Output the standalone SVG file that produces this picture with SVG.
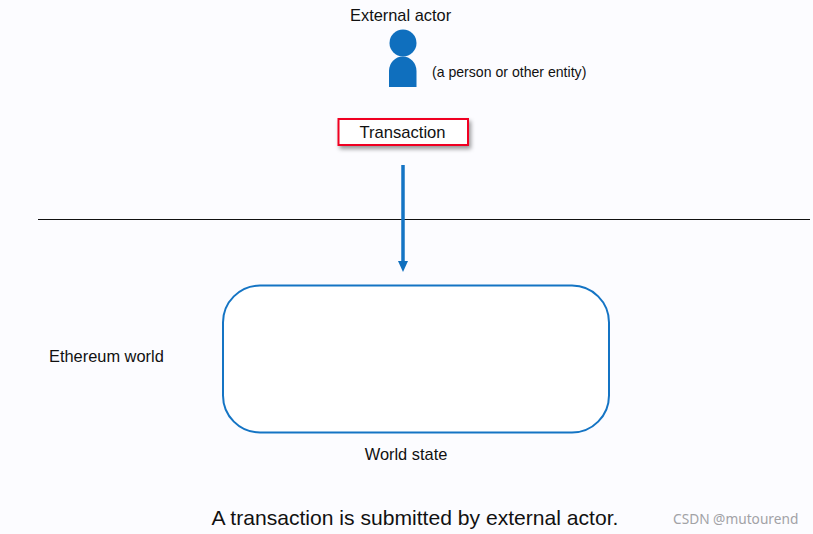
<svg xmlns="http://www.w3.org/2000/svg" width="813" height="534" viewBox="0 0 813 534">
<style>
text{font-family:"Liberation Sans",Arial,sans-serif;fill:#111}
.t{font-size:16.4px}
</style>
<defs>
<filter id="s" x="-10%" y="-30%" width="125%" height="170%"><feDropShadow dx="2" dy="3" stdDeviation="2" flood-color="#000" flood-opacity=".4"/></filter>
</defs>
<rect width="813" height="534" fill="#fcfcff"/>
<g id="connectors">
<line x1="38" y1="219.500" x2="810" y2="219.500" stroke="#111" stroke-width="1"/>
<line x1="403" y1="165" x2="403" y2="262" stroke="#1474c4" stroke-width="3.500"/>
<path d="M398 261L408 261L403 272Z" fill="#0f6fbe"/>
</g>
<g id="actor">
<circle cx="403" cy="43" r="13.500" fill="#0f6fbe"/>
<path d="M389 87V71A13.750 14.500 0 0 1 416.500 71V87Z" fill="#0f6fbe"/>
<text class="t" x="350" y="21">External actor</text>
<text x="432" y="77" font-size="14.100px">(a person or other entity)</text>
</g>
<g id="transaction">
<rect x="338.500" y="119" width="129.500" height="26" fill="#fff" stroke="#f00020" stroke-width="2" filter="url(#s)"/>
<text x="402.500" y="138" text-anchor="middle" font-size="16.600px">Transaction</text>
</g>
<g id="world-state">
<rect x="223" y="285.500" width="386" height="147" rx="37" fill="#fff" stroke="#1474c4" stroke-width="2"/>
<text class="t" x="406" y="460" text-anchor="middle">World state</text>
</g>
<g id="ethereum-world">
<text class="t" x="49" y="362">Ethereum world</text>
</g>
<text x="415" y="524.500" text-anchor="middle" font-size="21.100px">A transaction is submitted by external actor.</text>
<text x="673" y="524" font-size="13.700px" style="font-family:'Noto Sans','Liberation Sans',sans-serif;fill:#a2a2a6">CSDN @mutourend</text>
</svg>
